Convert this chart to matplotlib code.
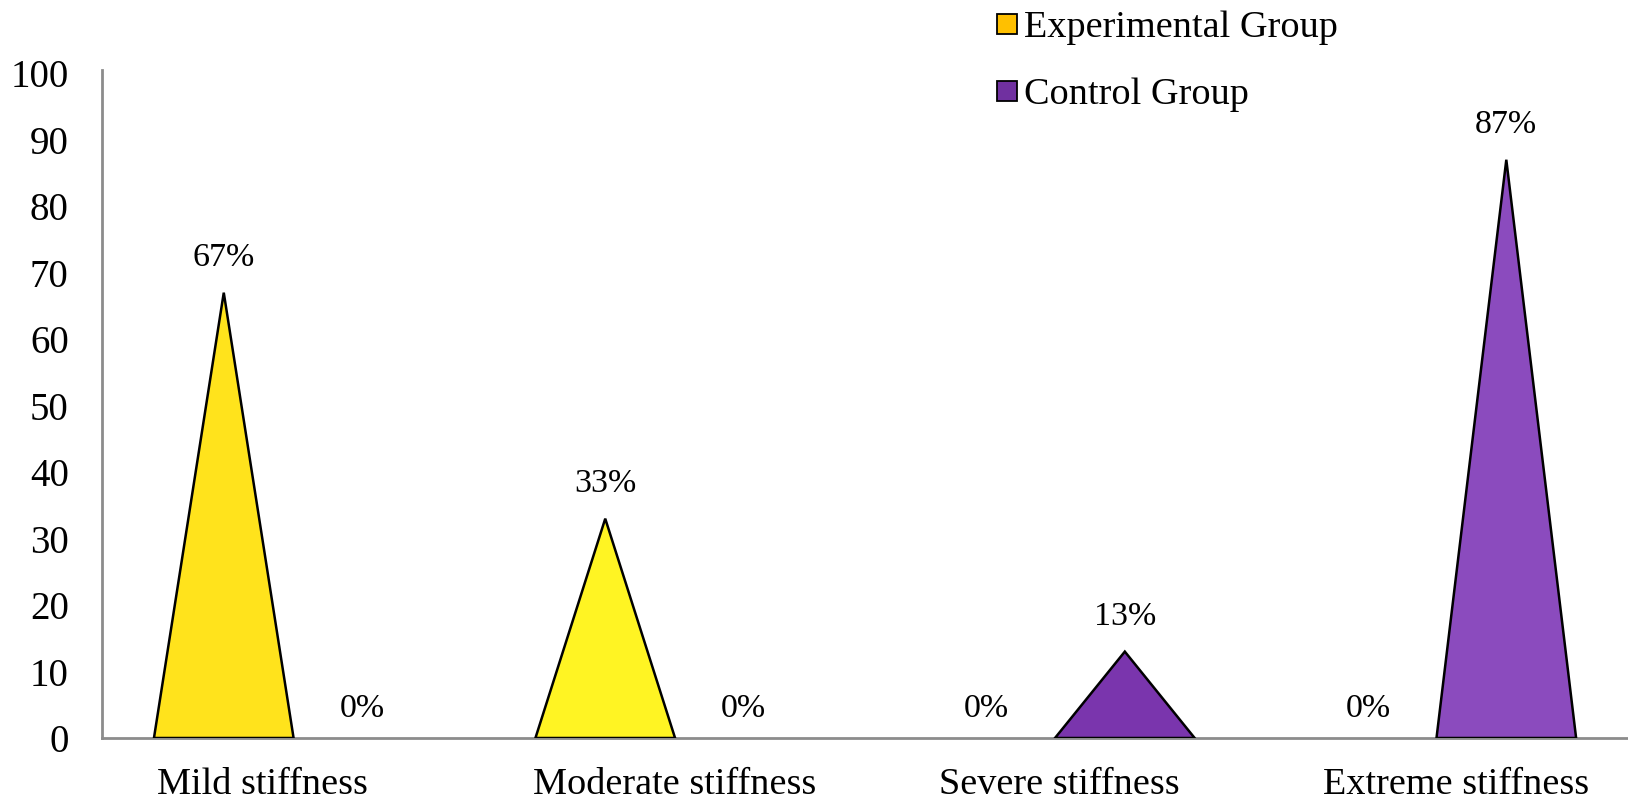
import matplotlib
matplotlib.use("Agg")
import matplotlib.pyplot as plt
from matplotlib.patches import Polygon
from matplotlib.lines import Line2D
import numpy as np

categories = ["Mild stiffness", "Moderate stiffness", "Severe stiffness", "Extreme stiffness"]
experimental = [67, 33, 0, 0]
control = [0, 0, 13, 87]
series_names = ["Experimental Group", "Control Group"]
legend_colors = ["#FFC000", "#7030A0"]
exp_fill = ["#FFE31C", "#FFF423", "#FFE31C", "#FFF423"]
ctl_fill = ["#7A35AD", "#7A35AD", "#7A35AD", "#8B4BBE"]
y_ticks = [0, 10, 20, 30, 40, 50, 60, 70, 80, 90, 100]

plt.rcParams["font.family"] = ["Liberation Serif", "DejaVu Serif"]

fig = plt.figure(figsize=(16.28, 8.0), dpi=100)
ax = fig.add_axes([0.0627, 0.0775, 0.9373, 0.835])

n = len(categories)
x = np.arange(n) + 0.5
shift = 0.181
half_w = 0.183

def triangle(cx, value, color):
    ax.add_patch(Polygon([[cx - half_w, 0], [cx, value], [cx + half_w, 0]],
                         closed=True, facecolor=color, edgecolor="black",
                         linewidth=1.8, joinstyle="miter", zorder=2))

for i in range(n):
    for cx, val, col in ((x[i] - shift, experimental[i], exp_fill[i]),
                         (x[i] + shift, control[i], ctl_fill[i])):
        if val > 0:
            triangle(cx, val, col)
        off = 25 if val > 0 else 21
        ax.annotate(f"{val}%", (cx, val), xytext=(0, off), textcoords="offset points",
                    ha="center", va="center", fontsize=24.5, color="black", zorder=3)

ax.set_xlim(0, n)
ax.set_ylim(0, 100.5)
ax.set_yticks(y_ticks)
ax.set_yticklabels([str(t) for t in y_ticks], fontsize=28)
label_shift = [-0.08, 0.0, 0.01, 0.05]
ax.set_xticks(x + np.array(label_shift))
ax.set_xticklabels(categories, fontsize=27.5)
ax.tick_params(axis="both", length=0)
ax.tick_params(axis="y", pad=24)
ax.tick_params(axis="x", pad=21)

for s in ("top", "right"):
    ax.spines[s].set_visible(False)
for s in ("left", "bottom"):
    ax.spines[s].set_color("#8C8C8C")
    ax.spines[s].set_linewidth(2.0)
    ax.spines[s].set_zorder(1)

handles = [Line2D([], [], marker="s", linestyle="none", markersize=15,
                  markerfacecolor=c, markeredgecolor="black", markeredgewidth=1.3)
           for c in legend_colors]
fig.legend(handles, series_names, loc="upper left", bbox_to_anchor=(0.602, 1.006),
           frameon=False, fontsize=27.5, handlelength=0.6, handletextpad=0.15,
           labelspacing=0.85, borderaxespad=0)

fig.savefig("out.png", dpi=100, facecolor="white")
